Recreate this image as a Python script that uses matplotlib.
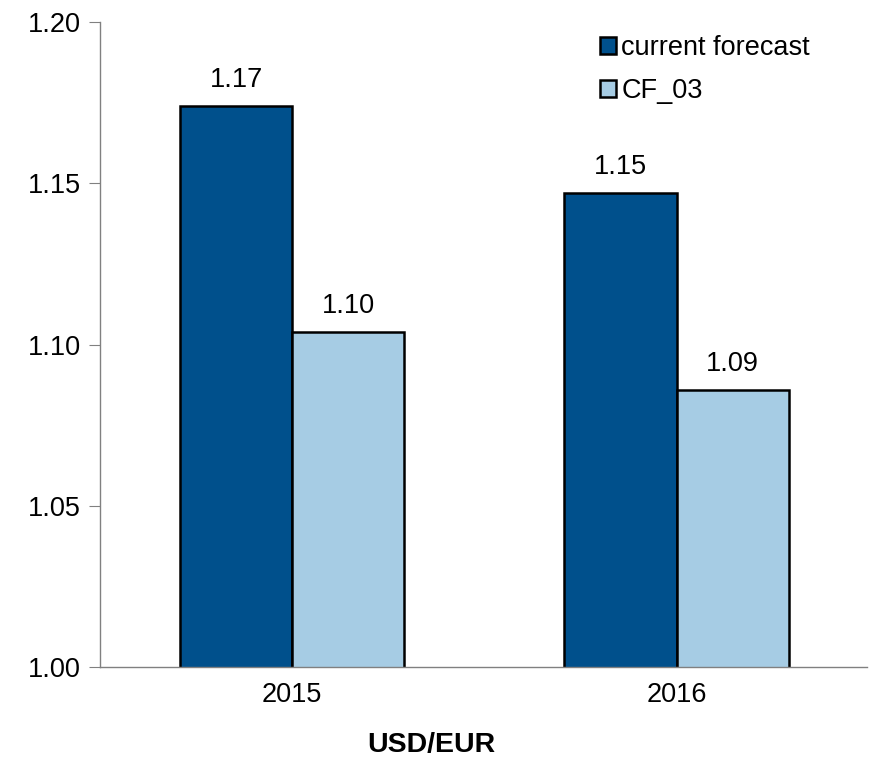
import numpy as np
import matplotlib.pyplot as plt
from matplotlib.patches import Patch

plt.rcParams['font.family'] = ['Liberation Sans', 'DejaVu Sans']

years = ["2015", "2016"]
current_forecast = [1.174, 1.147]
cf_03 = [1.104, 1.086]
series_names = ["current forecast", "CF_03"]

dark_blue = "#00508C"
light_blue = "#A6CCE4"
fs = 19.5

fig = plt.figure(figsize=(8.73, 7.58), dpi=100)
ax = fig.add_axes([0.1145, 0.12, 0.8785, 0.851])

x = np.arange(len(years))
width = 0.292

bars1 = ax.bar(x - width / 2, current_forecast, width, color=dark_blue,
               edgecolor="black", linewidth=1.8, label=series_names[0])
bars2 = ax.bar(x + width / 2, cf_03, width, color=light_blue,
               edgecolor="black", linewidth=1.8, label=series_names[1])

ax.bar_label(bars1, fmt="%.2f", padding=9, fontsize=fs)
ax.bar_label(bars2, fmt="%.2f", padding=9, fontsize=fs)

ax.set_ylim(1.0, 1.2)
ax.set_yticks([1.00, 1.05, 1.10, 1.15, 1.20])
ax.set_yticklabels([f"{v:.2f}" for v in [1.00, 1.05, 1.10, 1.15, 1.20]])
ax.set_xlim(-0.5, 1.495)
ax.set_xticks(x)
ax.set_xticklabels(years)

for side in ["top", "right"]:
    ax.spines[side].set_visible(False)
for side in ["left", "bottom"]:
    ax.spines[side].set_color("#808080")
    ax.spines[side].set_linewidth(1.0)

ax.tick_params(axis="y", direction="out", length=8, color="#808080",
               labelsize=fs, pad=6)
ax.tick_params(axis="x", length=0, labelsize=fs, pad=11)

# axis title sits below the year labels
fig.text(431 / 873, 1 - 745 / 758, "USD/EUR", fontsize=20.5, fontweight="bold",
         ha="center", va="center")

handles = [Patch(facecolor=dark_blue, edgecolor="black", linewidth=1.8),
           Patch(facecolor=light_blue, edgecolor="black", linewidth=1.8)]
ax.legend(handles, series_names, loc="upper left",
          bbox_to_anchor=(0.62, 1.018), frameon=False, fontsize=fs,
          handlelength=0.6, handleheight=0.6, handletextpad=0.2,
          labelspacing=0.65)

fig.savefig("out.png", dpi=100)
